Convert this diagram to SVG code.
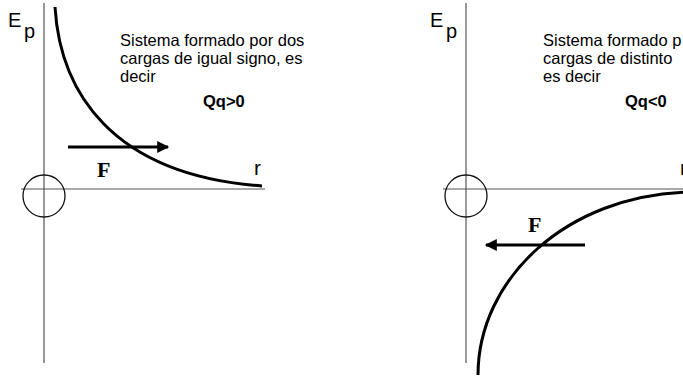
<svg xmlns="http://www.w3.org/2000/svg" width="683" height="378" viewBox="0 0 683 378">
<defs>
<style>
.axis{stroke:#555;stroke-width:1.2;fill:none}
.origin{stroke:#111;stroke-width:1.3;fill:none}
.curve{stroke:#000;stroke-width:3;fill:none}
.force{stroke:#000;stroke-width:3;fill:none}
.lbl{font-family:"Liberation Sans",Arial,sans-serif;fill:#000}
.desc{font-family:"Liberation Sans",Arial,sans-serif;font-size:16.5px;fill:#000}
.sign{font-family:"Liberation Sans",Arial,sans-serif;font-size:16.5px;font-weight:bold;fill:#000}
.flbl{font-family:"Liberation Serif","Times New Roman",serif;font-size:22px;font-weight:bold;fill:#000}
</style>
<marker id="ah" viewBox="0 0 10 10" refX="9" refY="5" markerWidth="4.6" markerHeight="4" orient="auto" markerUnits="strokeWidth">
<path d="M0,0 L10,5 L0,10 z" fill="#000"/>
</marker>
</defs>
<g id="left-panel">
<g id="left-axes">
<line class="axis" x1="44" y1="3" x2="44" y2="363"/>
<line class="axis" x1="21" y1="189" x2="265" y2="189"/>
<circle class="origin" cx="44" cy="196" r="21"/>
</g>
<g id="left-labels">
<text class="lbl" x="8" y="27" font-size="20">E</text>
<text class="lbl" x="24" y="38" font-size="20">p</text>
<text class="lbl" x="254" y="175" font-size="21">r</text>
<text class="desc" x="120" y="46">Sistema formado por dos</text>
<text class="desc" x="120" y="64">cargas de igual signo, es</text>
<text class="desc" x="120" y="82">decir</text>
<text class="sign" x="203" y="107">Qq&gt;0</text>
</g>
<g id="left-curve">
<path class="curve" d="M55,7 C60,90 110,175 262,186"/>
</g>
</g>
<g id="right-panel">
<g id="right-axes">
<line class="axis" x1="466" y1="3" x2="466" y2="363"/>
<line class="axis" x1="443" y1="189" x2="683" y2="189"/>
<circle class="origin" cx="466" cy="196" r="21"/>
</g>
<g id="right-labels">
<text class="lbl" x="430" y="27" font-size="20">E</text>
<text class="lbl" x="446" y="38" font-size="20">p</text>
<text class="lbl" x="680" y="175" font-size="21">r</text>
<text class="desc" x="543" y="46">Sistema formado p</text>
<text class="desc" x="543" y="64">cargas de distinto</text>
<text class="desc" x="543" y="82">es decir</text>
<text class="sign" x="625" y="107">Qq&lt;0</text>
</g>
<g id="right-curve">
<path class="curve" d="M478,375 C478,280 565,195 690,192"/>
</g>
</g>
<g id="connectors">
<line class="force" x1="68" y1="147" x2="168" y2="147" marker-end="url(#ah)"/>
<text class="flbl" x="97" y="177">F</text>
<line class="force" x1="585" y1="245" x2="486" y2="245" marker-end="url(#ah)"/>
<text class="flbl" x="528" y="232">F</text>
</g>
</svg>
